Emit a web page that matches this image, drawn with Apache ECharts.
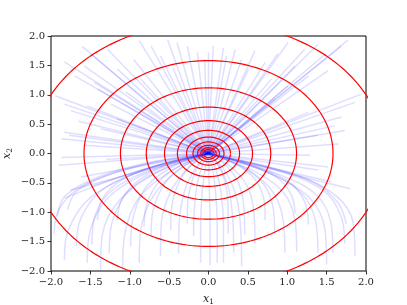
<!DOCTYPE html>
<html><head><meta charset="utf-8">
<script src="https://cdn.jsdelivr.net/npm/echarts@6/dist/echarts.min.js"></script>
<style>html,body{margin:0;padding:0;background:#fff}#c{width:407px;height:305px}</style>
</head><body><div id="c"></div>
<script>
// axis ticks
const xTicks = [-2.0, -1.5, -1.0, -0.5, 0.0, 0.5, 1.0, 1.5, 2.0];
const yTicks = [-2.0, -1.5, -1.0, -0.5, 0.0, 0.5, 1.0, 1.5, 2.0];
// contour levels of V(x) = x1^2 + x2^2
const levels = [5, 2.5, 1.25, 0.625, 0.3125, 0.156, 0.078, 0.039, 0.0195, 0.0098, 0.0049];

// trajectories in the upper half: near-straight segments into the origin
const upperTrajectories = [
  [[-1.60,1.82],[0,0]],[[-1.83,1.56],[0,0]],[[-1.49,1.69],[0,0]],[[-1.58,1.49],[0,0]],
  [[-1.70,1.32],[0,0]],[[-1.45,1.21],[0,0]],[[-1.41,1.10],[0,0]],[[-1.94,0.98],[0,0]],
  [[-1.83,0.84],[0,0]],[[-1.75,0.73],[0,0]],[[-1.54,0.81],[0,0]],[[-1.24,0.84],[0,0]],
  [[-1.83,0.36],[0,0]],[[-1.77,0.31],[0,0]],[[-1.87,0.25],[0,0]],[[-1.58,0.14],[0,0]],
  [[-1.37,0.42],[0,0]],[[-1.16,0.59],[0,0]],[[-0.88,1.92],[0,0]],[[-0.73,1.83],[0,0]],
  [[-0.52,1.94],[0,0]],[[-0.40,1.89],[0,0]],[[-0.27,1.83],[0,0]],[[-0.14,1.72],[0,0]],
  [[-0.61,1.66],[0,0]],[[-0.95,1.60],[0,0]],[[-1.16,1.44],[0,0]],[[-0.86,1.27],[0,0]],
  [[-1.28,1.77],[0,0]],[[-1.05,1.05],[0,0]],[[-0.45,1.45],[0,0]],[[-1.65,0.55],[0,0]],
  [[0.06,1.83],[0,0]],[[0.19,1.80],[0,0]],[[0.23,1.66],[0,0]],[[0.34,1.77],[0,0]],
  [[0.42,1.60],[0,0]],[[0.59,1.75],[0,0]],[[0.72,1.55],[0,0]],[[1.01,1.89],[0,0]],
  [[1.22,1.77],[0,0]],[[1.39,1.86],[0,0]],[[1.48,1.69],[0,0]],[[1.77,1.93],[0,0]],
  [[1.69,1.83],[0,0]],[[1.52,1.41],[0,0]],[[1.27,1.32],[0,0]],[[1.01,1.15],[0,0]],
  [[1.94,1.01],[0,0]],[[1.86,0.87],[0,0]],[[1.69,0.62],[0,0]],[[1.60,0.47],[0,0]],
  [[1.73,0.39],[0,0]],[[1.65,0.16],[0,0]],[[1.27,0.70],[0,0]],[[1.39,0.31],[0,0]],
  [[0.84,0.93],[0,0]],[[1.10,1.49],[0,0]],[[0.80,1.27],[0,0]],[[0.51,1.44],[0,0]],
  [[0.0,1.72],[0,0]],[[-0.05,1.60],[0,0]],[[0.88,1.70],[0,0]]
];

// trajectories in the lower half: rise steeply, then bend into the origin
const lowerTrajectories = [
  [[-1.96,-1.36],[-1.90,-0.95],[-1.60,-0.55],[-0.90,-0.22],[0,0]],
  [[-1.83,-1.81],[-1.78,-1.30],[-1.50,-0.75],[-0.85,-0.30],[0,0]],
  [[-1.68,-1.58],[-1.62,-1.10],[-1.35,-0.62],[-0.75,-0.25],[0,0]],
  [[-1.54,-1.86],[-1.50,-1.30],[-1.25,-0.72],[-0.70,-0.28],[0,0]],
  [[-1.37,-1.98],[-1.35,-1.40],[-1.12,-0.78],[-0.62,-0.30],[0,0]],
  [[-1.26,-1.69],[-1.22,-1.15],[-1.00,-0.62],[-0.55,-0.25],[0,0]],
  [[-1.09,-1.95],[-1.06,-1.35],[-0.88,-0.75],[-0.48,-0.30],[0,0]],
  [[-0.99,-1.58],[-0.95,-1.05],[-0.78,-0.55],[-0.42,-0.20],[0,0]],
  [[-0.88,-1.86],[-0.86,-1.30],[-0.70,-0.72],[-0.38,-0.28],[0,0]],
  [[-0.73,-1.41],[-0.70,-0.95],[-0.55,-0.50],[-0.30,-0.20],[0,0]],
  [[-0.61,-1.75],[-0.60,-1.20],[-0.48,-0.65],[-0.26,-0.25],[0,0]],
  [[-0.48,-1.30],[-0.46,-0.85],[-0.36,-0.45],[-0.20,-0.17],[0,0]],
  [[-0.38,-1.70],[-0.37,-1.15],[-0.30,-0.62],[-0.16,-0.24],[0,0]],
  [[-0.27,-1.19],[-0.26,-0.78],[-0.20,-0.42],[-0.10,-0.15],[0,0]],
  [[-0.19,-1.41],[-0.18,-0.95],[-0.14,-0.50],[-0.07,-0.18],[0,0]],
  [[-0.10,-1.86],[-0.10,-1.25],[-0.08,-0.65],[-0.04,-0.25],[0,0]],
  [[-1.92,-1.07],[-1.82,-0.72],[-1.40,-0.40],[-0.75,-0.15],[0,0]],
  [[-1.79,-0.96],[-1.68,-0.65],[-1.30,-0.38],[-0.70,-0.15],[0,0]],
  [[-1.41,-1.13],[-1.35,-0.78],[-1.10,-0.45],[-0.60,-0.18],[0,0]],
  [[-1.16,-1.13],[-1.10,-0.78],[-0.88,-0.45],[-0.48,-0.18],[0,0]],
  [[-1.48,-1.55],[-1.44,-1.05],[-1.20,-0.60],[-0.65,-0.24],[0,0]],
  [[-0.82,-1.25],[-0.78,-0.85],[-0.62,-0.47],[-0.34,-0.19],[0,0]],
  [[-1.87,-0.07],[0,0]],
  [[-1.83,-0.76],[-0.90,-0.30],[0,0]],
  [[-1.62,-0.40],[0,0]],
  [[-1.49,-0.56],[-0.70,-0.22],[0,0]],
  [[-1.75,-0.62],[0,0]],
  [[-1.90,-0.20],[0,0]],
  [[-1.30,-0.10],[0,0]],
  [[1.86,-1.75],[1.84,-1.20],[1.60,-0.70],[1.00,-0.32],[0,0]],
  [[1.73,-1.53],[1.68,-1.05],[1.45,-0.62],[0.90,-0.30],[0,0]],
  [[1.50,-1.89],[1.48,-1.30],[1.28,-0.75],[0.80,-0.35],[0,0]],
  [[1.58,-1.69],[1.55,-1.15],[1.35,-0.68],[0.82,-0.32],[0,0]],
  [[1.39,-1.69],[1.36,-1.15],[1.17,-0.66],[0.72,-0.30],[0,0]],
  [[1.12,-1.67],[1.10,-1.15],[0.95,-0.66],[0.58,-0.30],[0,0]],
  [[0.97,-1.69],[0.95,-1.15],[0.82,-0.66],[0.50,-0.28],[0,0]],
  [[0.84,-1.36],[0.82,-0.92],[0.70,-0.52],[0.42,-0.22],[0,0]],
  [[0.72,-1.13],[0.70,-0.76],[0.58,-0.42],[0.34,-0.18],[0,0]],
  [[0.42,-1.92],[0.41,-1.30],[0.35,-0.72],[0.20,-0.28],[0,0]],
  [[0.32,-1.69],[0.31,-1.15],[0.26,-0.62],[0.15,-0.24],[0,0]],
  [[0.19,-1.86],[0.19,-1.25],[0.16,-0.66],[0.09,-0.26],[0,0]],
  [[0.11,-1.86],[0.11,-1.25],[0.09,-0.65],[0.05,-0.25],[0,0]],
  [[0.59,-1.53],[0.58,-1.05],[0.50,-0.58],[0.29,-0.23],[0,0]],
  [[0.46,-1.38],[0.45,-0.92],[0.38,-0.50],[0.22,-0.20],[0,0]],
  [[0.25,-1.36],[0.25,-0.90],[0.21,-0.48],[0.12,-0.19],[0,0]],
  [[1.27,-1.21],[1.22,-0.82],[1.02,-0.48],[0.60,-0.22],[0,0]],
  [[1.10,-1.02],[1.05,-0.70],[0.86,-0.40],[0.50,-0.19],[0,0]],
  [[1.75,-1.20],[1.65,-0.85],[1.35,-0.50],[0.80,-0.25],[0,0]],
  [[0.02,-1.90],[0.02,-1.20],[0.01,-0.60],[0,0]],
  [[1.29,-0.03],[0,0]],
  [[1.56,-0.48],[0,0]],
  [[1.39,-0.28],[0,0]],
  [[1.52,-0.23],[0,0]],
  [[1.80,-0.60],[0,0]]
];

const fmt = v => {
  const t = xTicks.find(k => Math.abs(k - v) < 1e-9);
  const s = (t === undefined ? v : t).toFixed(1);
  return s.replace('-', '\u2212');
};

const series = [];
upperTrajectories.concat(lowerTrajectories).forEach(tr => {
  series.push({
    type: 'line', data: tr, showSymbol: false, symbol: 'none', smooth: 0.35,
    silent: true, animation: false, z: 2,
    lineStyle: { color: 'rgba(0,0,255,0.13)', width: 1.5 }
  });
});
levels.forEach(c => {
  const r = Math.sqrt(c);
  const pts = [];
  for (let i = 0; i <= 180; i++) {
    const a = i / 180 * 2 * Math.PI;
    pts.push([r * Math.cos(a), r * Math.sin(a)]);
  }
  series.push({
    type: 'line', data: pts, showSymbol: false, symbol: 'none',
    silent: true, animation: false, z: 3,
    lineStyle: { color: '#ff0000', width: 1.2 }
  });
});

const nameRich = {
  i: { fontFamily: 'DejaVu Serif', fontStyle: 'italic', fontSize: 11, color: '#222' },
  s: { fontFamily: 'DejaVu Serif', fontSize: 7.5, color: '#222', padding: [5, 0, 0, 0] }
};

const chart = echarts.init(document.getElementById('c'), null, { renderer: 'canvas' });
chart.setOption({
  animation: false,
  grid: { left: 51, right: 41, top: 36, bottom: 34, outerBoundsMode: 'none', containLabel: false,
          show: true, borderColor: '#000', borderWidth: 1, backgroundColor: 'transparent' },
  xAxis: {
    type: 'value', min: xTicks[0], max: xTicks[xTicks.length - 1], interval: 0.5,
    name: '{i|x}{s|1}', nameLocation: 'middle', nameGap: 22,
    nameTextStyle: { rich: nameRich },
    axisLine: { show: false, onZero: false }, splitLine: { show: false },
    axisTick: { show: true, inside: false, length: 3.5, lineStyle: { color: '#000', width: 0.8 } },
    axisLabel: { formatter: fmt, fontFamily: 'DejaVu Serif', fontSize: 10, color: '#222', margin: 6 }
  },
  yAxis: {
    type: 'value', min: yTicks[0], max: yTicks[yTicks.length - 1], interval: 0.5,
    name: '{i|x}{s|2}', nameLocation: 'middle', nameGap: 37, nameMoveOverlap: false,
    nameTextStyle: { rich: nameRich },
    axisLine: { show: false, onZero: false }, splitLine: { show: false },
    axisTick: { show: true, inside: false, length: 3.5, lineStyle: { color: '#000', width: 0.8 } },
    axisLabel: { formatter: fmt, fontFamily: 'DejaVu Serif', fontSize: 10, color: '#222', margin: 6 }
  },
  series: series
});
</script></body></html>
